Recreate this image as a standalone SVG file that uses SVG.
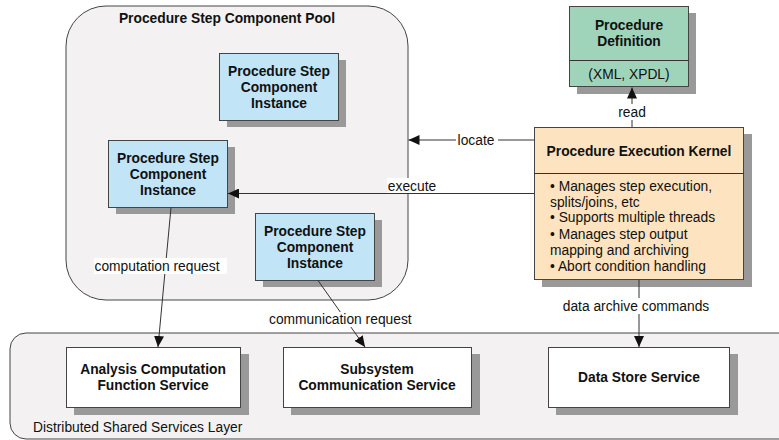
<svg xmlns="http://www.w3.org/2000/svg" width="779" height="440" viewBox="0 0 779 440">
<style>
text{font-family:"Liberation Sans",Arial,sans-serif;fill:#111;}
.b{font-weight:bold;font-size:13.8px;text-anchor:middle;}
.r{font-size:13.8px;}
.c{text-anchor:middle;}
.region{fill:#f3f1f2;stroke:#444;stroke-width:1;}
.shadow{fill:#999;}
.inst{fill:#c1e5f7;stroke:#444;stroke-width:1;}
.svc{fill:#fff;stroke:#444;stroke-width:1;}
.def{fill:#9fd4bb;stroke:#444;stroke-width:1;}
.kern{fill:#fde3bf;stroke:#444;stroke-width:1;}
.line{stroke:#333;stroke-width:1;fill:none;}
.lbg{fill:#fff;}
</style>
<defs>
<marker id="ah" markerUnits="userSpaceOnUse" markerWidth="12" markerHeight="10" refX="11" refY="5" orient="auto">
<path d="M0,0 L11,5 L0,10 Z" fill="#111"/>
</marker>
</defs>

<g id="pool">
<rect class="region" x="66" y="6" width="342" height="294" rx="40" ry="40"/>
<text class="b" x="227" y="23">Procedure Step Component Pool</text>
</g>

<g id="services-layer">
<rect class="region" x="10" y="333" width="790" height="106" rx="16" ry="16"/>
<text class="r" x="33" y="432">Distributed Shared Services Layer</text>
</g>

<g id="instance1">
<rect class="shadow" x="227" y="60" width="119" height="67"/>
<rect class="inst" x="219.5" y="53.5" width="119" height="67"/>
<text class="b" x="279" y="75.5">Procedure Step</text>
<text class="b" x="279" y="92">Component</text>
<text class="b" x="279" y="108">Instance</text>
</g>

<g id="instance2">
<rect class="shadow" x="116" y="147" width="119" height="67"/>
<rect class="inst" x="108.5" y="140.5" width="119" height="67"/>
<text class="b" x="168" y="162.5">Procedure Step</text>
<text class="b" x="168" y="179">Component</text>
<text class="b" x="168" y="195">Instance</text>
</g>

<g id="instance3">
<rect class="shadow" x="263" y="220" width="119" height="67"/>
<rect class="inst" x="255.5" y="213.5" width="119" height="67"/>
<text class="b" x="315" y="235.5">Procedure Step</text>
<text class="b" x="315" y="252">Component</text>
<text class="b" x="315" y="268">Instance</text>
</g>

<g id="definition">
<rect class="shadow" x="577" y="13" width="119" height="81"/>
<rect class="def" x="569.5" y="6.5" width="119" height="80"/>
<line x1="569.5" y1="60.5" x2="688.5" y2="60.5" stroke="#333"/>
<text class="b" x="629" y="30">Procedure</text>
<text class="b" x="629" y="46">Definition</text>
<text class="r c" x="629" y="79">(XML, XPDL)</text>
</g>

<g id="kernel">
<rect class="shadow" x="542" y="134" width="210" height="153"/>
<rect class="kern" x="534.5" y="127.5" width="209" height="152"/>
<line x1="534.5" y1="173.5" x2="743.5" y2="173.5" stroke="#333"/>
<text class="b" x="639" y="156">Procedure Execution Kernel</text>
<text class="r" x="550" y="191">• Manages step execution,</text>
<text class="r" x="550" y="207">splits/joins, etc</text>
<text class="r" x="550" y="222">• Supports multiple threads</text>
<text class="r" x="550" y="239">• Manages step output</text>
<text class="r" x="550" y="255">mapping and archiving</text>
<text class="r" x="550" y="271">• Abort condition handling</text>
</g>

<g id="analysis">
<rect class="shadow" x="74" y="354" width="175" height="61"/>
<rect class="svc" x="66.5" y="347.5" width="174" height="60"/>
<text class="b" x="153" y="374">Analysis Computation</text>
<text class="b" x="153" y="390">Function Service</text>
</g>

<g id="subsystem">
<rect class="shadow" x="291" y="354" width="189" height="61"/>
<rect class="svc" x="283.5" y="347.5" width="188" height="60"/>
<text class="b" x="377" y="374">Subsystem</text>
<text class="b" x="377" y="390">Communication Service</text>
</g>

<g id="datastore">
<rect class="shadow" x="556" y="354" width="182" height="61"/>
<rect class="svc" x="548.5" y="347.5" width="181" height="60"/>
<text class="b" x="639" y="382">Data Store Service</text>
</g>

<g id="connectors">
<line class="line" x1="632" y1="127" x2="632" y2="87.5" marker-end="url(#ah)"/>
<rect class="lbg" x="617" y="104" width="30" height="16"/>
<text class="r c" x="632" y="117">read</text>

<line class="line" x1="534" y1="140" x2="408.5" y2="140" marker-end="url(#ah)"/>
<rect class="lbg" x="456" y="132" width="42" height="16"/>
<text class="r c" x="476" y="144.5">locate</text>

<line class="line" x1="534" y1="193.5" x2="228" y2="193.5" marker-end="url(#ah)"/>
<rect class="lbg" x="387" y="178" width="50" height="15"/>
<text class="r c" x="412" y="191">execute</text>

<line class="line" x1="171" y1="207.5" x2="158" y2="347" marker-end="url(#ah)"/>
<rect class="lbg" x="94" y="258" width="133" height="16"/>
<text class="r" x="94.5" y="271">computation request</text>

<line class="line" x1="318" y1="280.5" x2="365" y2="347" marker-end="url(#ah)"/>
<rect class="lbg" x="268" y="312" width="146" height="15"/>
<text class="r" x="269" y="324">communication request</text>

<line class="line" x1="639" y1="280" x2="639" y2="347" marker-end="url(#ah)"/>
<rect class="lbg" x="560" y="298" width="152" height="16"/>
<text class="r c" x="636" y="311">data archive commands</text>
</g>
</svg>
